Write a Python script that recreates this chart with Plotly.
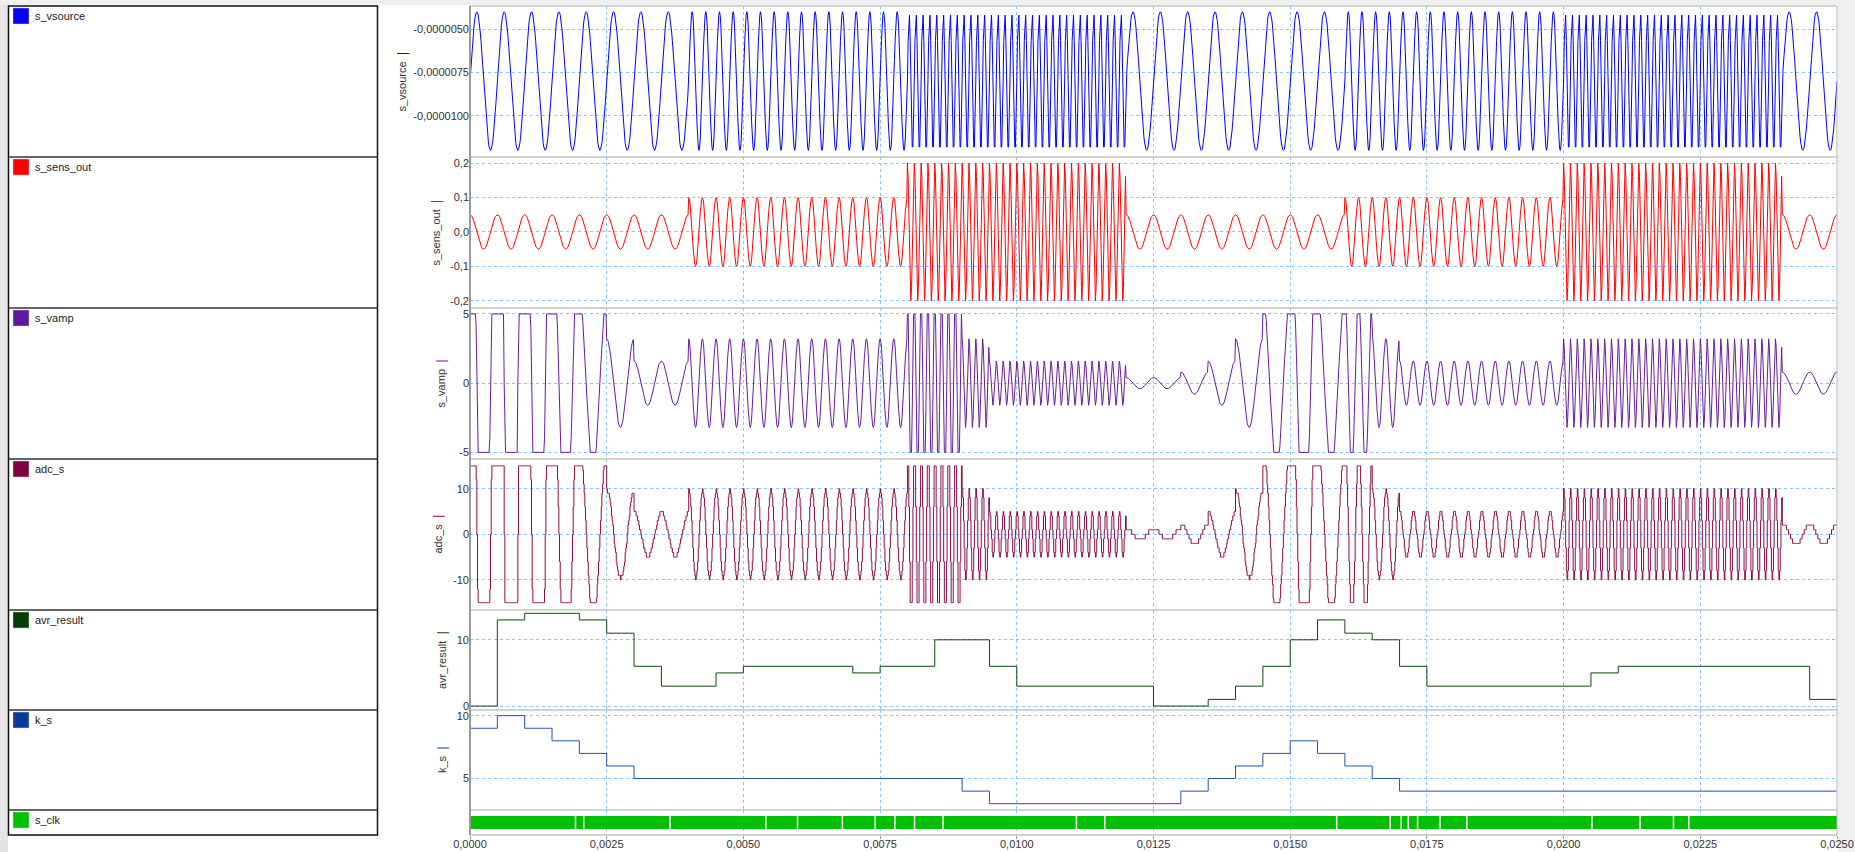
import numpy as np
import plotly.graph_objects as go

W, H = 1855, 852

# ---------------- data ----------------
# excitation segments (frequency bursts) and sensor response amplitude
seg_start_s = [0.000, 0.004, 0.008, 0.012, 0.016, 0.020, 0.024]
seg_end_s = [0.004, 0.008, 0.012, 0.016, 0.020, 0.024, 0.025]
seg_freq_hz = [2000, 4000, 8000, 2000, 4000, 8000, 2000]
sens_amp_v = [0.05, 0.10, 0.20, 0.05, 0.10, 0.20, 0.05]
vsource_mid = -8.0e-6
vsource_amp = 4.0e-6
vamp_limit = 5.0
adc_counts_per_volt = 3.0
sim_step_s = 1.25e-5
adc_step_s = 1.25e-5

# gain code k_s (step signal)
k_t = [0, 0.0005, 0.001, 0.0015, 0.002, 0.0025, 0.003, 0.009, 0.0095, 0.013,
       0.0135, 0.014, 0.0145, 0.015, 0.0155, 0.016, 0.0165, 0.017, 0.02499]
k_v = [9, 10, 9, 8, 7, 6, 5, 4, 3, 4, 5, 6, 7, 8, 7, 6, 5, 4, 4]

# averaged result (step signal)
avr_t = [0, 0.0005, 0.001, 0.002, 0.0025, 0.003, 0.0035, 0.0045, 0.005, 0.007,
         0.0075, 0.0085, 0.0095, 0.01, 0.0125, 0.0135, 0.014, 0.0145, 0.015,
         0.0155, 0.016, 0.0165, 0.017, 0.0175, 0.0205, 0.021, 0.0245, 0.02499]
avr_v = [0, 13, 14, 13, 11, 6, 3, 5, 6, 5, 6, 10, 6, 3, 0, 1, 3, 6, 10, 13, 11,
         10, 6, 3, 5, 6, 1, 1]

# white gaps visible in the s_clk bar
clk_gap_t = [0.00193, 0.00208, 0.00366, 0.00541, 0.00599, 0.00681, 0.00741,
             0.00777, 0.00813, 0.00865, 0.01109, 0.01161, 0.01585, 0.01683,
             0.01703, 0.01716, 0.01733, 0.01774, 0.01823, 0.02052, 0.02140,
             0.02201, 0.02229]

x_tick_vals = [0.0, 0.0025, 0.005, 0.0075, 0.01, 0.0125, 0.015, 0.0175, 0.02, 0.0225, 0.025]
x_tick_text = ["0,0000", "0,0025", "0,0050", "0,0075", "0,0100", "0,0125",
               "0,0150", "0,0175", "0,0200", "0,0225", "0,0250"]

names = ["s_vsource", "s_sens_out", "s_vamp", "adc_s", "avr_result", "k_s", "s_clk"]
colors = ["#0000ff", "#ff0000", "#6a1b9a", "#8a0c4a", "#0b4a0b", "#2452a4", "#00c000"]
legend_colors = ["#0000ff", "#ff0000", "#5e1a9c", "#800040", "#003f00", "#0b3a9a", "#00c000"]

y_tick_vals = [
    [-5e-6, -7.5e-6, -10e-6],
    [-0.2, -0.1, 0.0, 0.1, 0.2],
    [-5, 0, 5],
    [-10, 0, 10],
    [0, 10],
    [5, 10],
    [],
]
y_tick_text = [
    ["-0,0000050", "-0,0000075", "-0,0000100"],
    ["-0,2", "-0,1", "0,0", "0,1", "0,2"],
    ["-5", "0", "5"],
    ["-10", "0", "10"],
    ["0", "10"],
    ["5", "10"],
    [],
]
y_ranges = [
    [-12.38e-6, -3.67e-6],
    [-0.221, 0.218],
    [-5.48, 5.43],
    [-16.6, 16.5],
    [-0.6, 14.5],
    [2.5, 10.45],
    [-0.46, 1.46],
]

# ---------------- layout geometry (pixels) ----------------
panel_px = [(6, 157), (157, 308), (308, 459), (459, 610), (610, 710), (710, 810), (810, 835)]
plot_x0, plot_x1 = 470, 1837
title_x_px = [401, 435, 440, 437, 441, 441]


def px(x):
    return x / W


def py(y):
    return 1 - y / H


# ---------------- build signals ----------------
def step_lookup(ts, vs, t):
    idx = np.searchsorted(np.array(ts), t, side="right") - 1
    idx = np.clip(idx, 0, len(vs) - 1)
    return np.array(vs, dtype=float)[idx]


def signals(t):
    st = np.array(seg_start_s)
    idx = np.clip(np.searchsorted(st, t, side="right") - 1, 0, len(st) - 1)
    f = np.array(seg_freq_hz, dtype=float)[idx]
    a = np.array(sens_amp_v)[idx]
    ph = 2 * np.pi * f * (t - st[idx])
    vs = vsource_mid + vsource_amp * np.sin(ph)
    sens = a * np.cos(ph)
    k = step_lookup(k_t, k_v, t)
    vamp = np.clip(sens * 2.0 ** k, -vamp_limit, vamp_limit)
    return vs, sens, vamp


t = np.arange(0, 0.025 + 1e-12, sim_step_s)
vs, sens, vamp = signals(t)
t_adc = np.arange(0, 0.025 + 1e-12, adc_step_s)
_, _, vamp_adc = signals(t_adc)
adc = np.round(vamp_adc * adc_counts_per_volt)

fig = go.Figure()

series = [
    (t, vs, "linear"),
    (t, sens, "linear"),
    (t, vamp, "linear"),
    (t_adc, adc, "hv"),
    (avr_t, avr_v, "hv"),
    (k_t, k_v, "hv"),
]
for i, (xx, yy, shp) in enumerate(series):
    n = i + 1
    fig.add_trace(go.Scatter(
        x=xx, y=yy, mode="lines", line=dict(color=colors[i], width=1, shape=shp),
        xaxis=f"x{n}" if n > 1 else "x", yaxis=f"y{n}" if n > 1 else "y",
        hoverinfo="skip", showlegend=False))

# s_clk bar
fig.add_trace(go.Scatter(
    x=[0, 0.025, 0.025, 0, 0], y=[0, 0, 1, 1, 0], mode="lines", fill="toself",
    fillcolor="#00c000", line=dict(width=0, color="#00c000"),
    xaxis="x7", yaxis="y7", hoverinfo="skip", showlegend=False))
gx, gy = [], []
for g in clk_gap_t:
    gx += [g, g, None]
    gy += [0, 1, None]
fig.add_trace(go.Scatter(
    x=gx, y=gy, mode="lines", line=dict(color="#ffffff", width=1.5),
    xaxis="x7", yaxis="y7", hoverinfo="skip", showlegend=False))

grid_col = "#8cc4f5"
tick_font = dict(family="Liberation Sans, Arial, sans-serif", size=11, color="#333333")
layout = dict(
    template="none",
    width=W, height=H, margin=dict(l=0, r=0, t=0, b=0, pad=0), autosize=False,
    paper_bgcolor="#ffffff", plot_bgcolor="rgba(0,0,0,0)",
    showlegend=False, font=tick_font,
)
for i in range(7):
    n = i + 1
    top, bot = panel_px[i]
    xname = "xaxis" if n == 1 else f"xaxis{n}"
    yname = "yaxis" if n == 1 else f"yaxis{n}"
    last = (n == 7)
    xa = dict(
        domain=[px(plot_x0), px(plot_x1)], range=[0, 0.025], anchor="y" if n == 1 else f"y{n}",
        tickvals=x_tick_vals, ticktext=x_tick_text, showticklabels=last,
        ticks="outside" if last else "", ticklen=3, tickcolor="#999999",
        showgrid=True, gridcolor=grid_col, griddash="dot", gridwidth=1,
        zeroline=False, showline=False, tickfont=tick_font, fixedrange=True,
        automargin=False,
    )
    if last:
        xa["ticklabelstandoff"] = -4
    layout[xname] = xa
    layout[yname] = dict(
        domain=[py(bot), py(top)], range=y_ranges[i], anchor="x" if n == 1 else f"x{n}",
        tickvals=y_tick_vals[i], ticktext=y_tick_text[i], showticklabels=not last,
        ticks="", showgrid=not last, gridcolor=grid_col, griddash="dot", gridwidth=1,
        zeroline=False, showline=False, tickfont=tick_font, fixedrange=True,
        automargin=False,
    )
fig.update_layout(**layout)

shapes = []
# background strips
shapes.append(dict(type="rect", xref="paper", yref="paper", x0=0, x1=px(8), y0=0, y1=1,
                   fillcolor="#e4e4e4", line=dict(width=0), layer="below"))
shapes.append(dict(type="rect", xref="paper", yref="paper", x0=0, x1=1, y0=py(5), y1=1,
                   fillcolor="#f0f0f0", line=dict(width=0), layer="below"))
shapes.append(dict(type="rect", xref="paper", yref="paper", x0=px(1838), x1=1, y0=0, y1=1,
                   fillcolor="#f0f0f0", line=dict(width=0), layer="below"))
# legend box
shapes.append(dict(type="rect", xref="paper", yref="paper", x0=px(8.5), x1=px(377.5),
                   y0=py(835), y1=py(6), fillcolor="#ffffff", line=dict(color="#111111", width=1.5),
                   layer="below"))
for i in range(1, 7):
    y = panel_px[i][0]
    shapes.append(dict(type="line", xref="paper", yref="paper", x0=px(8.5), x1=px(377.5),
                       y0=py(y), y1=py(y), line=dict(color="#333333", width=1.5)))
for i in range(7):
    top = panel_px[i][0]
    shapes.append(dict(type="rect", xref="paper", yref="paper", x0=px(13), x1=px(29),
                       y0=py(top + 18), y1=py(top + 2), fillcolor=legend_colors[i],
                       line=dict(color="#cfcfcf", width=0.5)))
# plot frame
for i in range(7):
    y = panel_px[i][0]
    shapes.append(dict(type="line", xref="paper", yref="paper", x0=px(plot_x0), x1=px(plot_x1),
                       y0=py(y), y1=py(y), line=dict(color="#c4c4c4", width=1.5)))
shapes.append(dict(type="line", xref="paper", yref="paper", x0=px(plot_x0), x1=px(plot_x1),
                   y0=py(835), y1=py(835), line=dict(color="#a8a8a8", width=1)))
shapes.append(dict(type="line", xref="paper", yref="paper", x0=px(plot_x0), x1=px(plot_x0),
                   y0=py(835), y1=py(6), line=dict(color="#9a9a9a", width=2)))
shapes.append(dict(type="line", xref="paper", yref="paper", x0=px(plot_x1), x1=px(plot_x1),
                   y0=py(835), y1=py(6), line=dict(color="#b4b4b4", width=1)))

annotations = []
for i in range(7):
    top = panel_px[i][0]
    annotations.append(dict(
        xref="paper", yref="paper", x=px(33), y=py(top + 10), xanchor="left", yanchor="middle",
        text=names[i], showarrow=False,
        font=dict(family="Liberation Sans, Arial, sans-serif", size=11, color="#222222")))
for i in range(6):
    top, bot = panel_px[i]
    annotations.append(dict(
        xref="paper", yref="paper", x=px(title_x_px[i]), y=py((top + bot) / 2),
        xanchor="center", yanchor="middle", textangle=-90, showarrow=False,
        text=f"{names[i]}&nbsp;&nbsp;<span style='color:{colors[i]};font-size:13px'>|</span>",
        font=dict(family="Liberation Sans, Arial, sans-serif", size=11, color="#333333")))

fig.update_layout(shapes=shapes, annotations=annotations)
fig.write_html(
    "out.html",
    config={"displayModeBar": False},
    post_script="document.body.style.margin='0px';document.body.style.overflow='hidden';",
)
